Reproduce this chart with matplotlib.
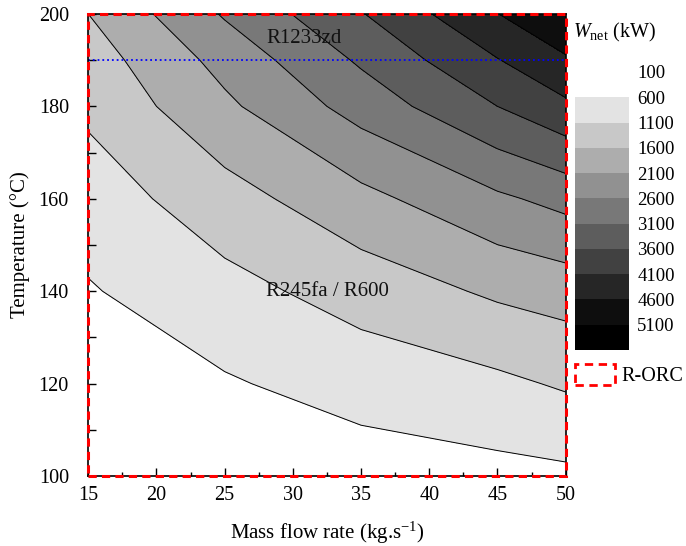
import numpy as np
import matplotlib
matplotlib.use('Agg')
from matplotlib import pyplot as plt
from matplotlib.patches import Rectangle, Patch
from matplotlib.ticker import MultipleLocator

plt.rcParams['font.family'] = ['Liberation Serif', 'DejaVu Serif']
plt.rcParams['mathtext.fontset'] = 'custom'
plt.rcParams['mathtext.rm'] = 'Liberation Serif'
plt.rcParams['mathtext.it'] = 'Liberation Serif:italic'

# mass flow rate (kg/s) and heat source temperature (C) grid
mass_flow = [15, 25, 35, 45, 50]
temperature = [100, 120, 140, 160, 180, 190, 200]

# net power output (kW), one row per temperature
w_net = [
    [150, 250, 350, 450, 500],
    [340, 550, 805, 995, 1160],
    [561, 935, 1309, 1683, 1810],
    [837, 1395, 1953, 2511, 2760],
    [1200, 2000, 2800, 3600, 4000],
    [1359, 2265, 3171, 4077, 4530],
    [1600, 2650, 3570, 4590, 5100],
]

levels = [100, 600, 1100, 1600, 2100, 2600, 3100, 3600, 4100, 4600, 5100, 5600]
band_grey = [255, 227, 200, 173, 145, 120, 93, 65, 38, 14, 0]
band_colors = ['#%02x%02x%02x' % (g, g, g) for g in band_grey]

split_temperature = 190

fig = plt.figure(figsize=(6.86, 5.46), dpi=100)
ax = fig.add_axes([0.1287, 0.1282, 0.6959, 0.8462])

cf = ax.contourf(mass_flow, temperature, w_net, levels=levels, colors=band_colors)
ax.contour(mass_flow, temperature, w_net, levels=levels[1:-2], colors='k', linewidths=0.7)

ax.axhline(split_temperature, color='#0000ff', linestyle=':', linewidth=1.3)

ax.text(30.8, 194.8, 'R1233zd', fontsize=15, ha='center', va='center', color='#111111')
ax.text(32.5, 140.0, 'R245fa / R600', fontsize=15, ha='center', va='center', color='#111111')

# R-ORC operating envelope drawn round the whole map
ax.add_patch(Rectangle((0, 0), 1, 1, transform=ax.transAxes, fill=False,
                       edgecolor='#ff0000', linewidth=2.2, linestyle=(0, (2.7, 1.7)),
                       clip_on=False, zorder=10))

ax.set_xlim(15, 50)
ax.set_ylim(100, 200)
ax.set_xticks(range(15, 51, 5))
ax.set_yticks(range(100, 201, 20))
ax.xaxis.set_minor_locator(MultipleLocator(2.5))
ax.yaxis.set_minor_locator(MultipleLocator(10))
ax.tick_params(axis='both', which='both', direction='in', top=False, right=False, width=1.0,
               labelsize=14.5)
ax.tick_params(axis='x', which='major', length=6, pad=7)
ax.tick_params(axis='x', which='minor', length=3)
ax.tick_params(axis='y', which='both', length=6, pad=14)
for s in ax.spines.values():
    s.set_linewidth(1.2)

ax.set_xlabel('Mass flow rate (kg.s$^{-1}$)', fontsize=15, labelpad=11)
ax.set_ylabel('Temperature (°C)', fontsize=15, labelpad=6)

cax = fig.add_axes([0.8382, 0.3590, 0.0787, 0.5092])
cb = fig.colorbar(cf, cax=cax, ticks=levels[:-1])
cb.outline.set_visible(False)
cax.invert_yaxis()
cax.tick_params(length=0, labelsize=13.5, pad=6)
fig.text(0.836, 1 - 32 / 546, r'$W_{\mathrm{net}}$ (kW)', fontsize=14.5, ha='left', va='center')

orc = Patch(facecolor='none', edgecolor='#ff0000', linewidth=2, linestyle=(0, (3, 2)))
fig.legend(handles=[orc], labels=['R-ORC'], loc='center left',
           bbox_to_anchor=(0.838, 1 - 375 / 546), frameon=False, fontsize=14.5,
           handlelength=2.0, handleheight=1.2, handletextpad=0.3,
           borderaxespad=0, borderpad=0)

fig.savefig('out.png', dpi=100)
